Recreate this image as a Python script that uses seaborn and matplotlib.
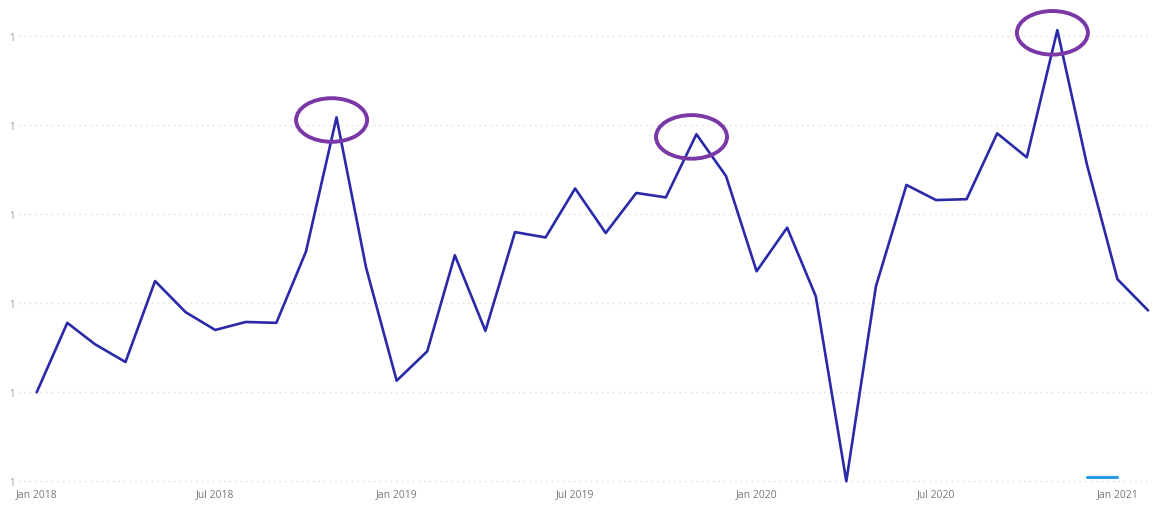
import matplotlib.pyplot as plt
import matplotlib.dates as mdates
from matplotlib.patches import Ellipse
import pandas as pd
import seaborn as sns

# Monthly values (Jan 2018 - Feb 2021)
months = pd.date_range('2018-01-01', periods=38, freq='MS')
values = [1.00, 1.78, 1.54, 1.34, 2.25, 1.90, 1.70, 1.79, 1.78, 2.58, 4.09, 2.40,
          1.13, 1.46, 2.54, 1.69, 2.80, 2.74, 3.29, 2.79, 3.24, 3.19, 3.90, 3.43,
          2.36, 2.85, 2.08, 0.00, 2.19, 3.33, 3.16, 3.17, 3.91, 3.64, 5.07, 3.56,
          2.27, 1.92]

# short light-blue fragment near the bottom right
frag_months = pd.to_datetime(['2020-12-01', '2021-01-01'])
frag_values = [0.05, 0.05]

# peaks highlighted with circles
peak_months = pd.to_datetime(['2018-11-01', '2019-11-01', '2020-11-01'])

x_ticks = pd.to_datetime(['2018-01-01', '2018-07-01', '2019-01-01', '2019-07-01',
                          '2020-01-01', '2020-07-01', '2021-01-01'])
x_labels = ['Jan 2018', 'Jul 2018', 'Jan 2019', 'Jul 2019',
            'Jan 2020', 'Jul 2020', 'Jan 2021']
y_ticks = [0, 1, 2, 3, 4, 5]
y_labels = ['1', '1', '1', '1', '1', '1']

df = pd.DataFrame({'month': months, 'value': values})
df_frag = pd.DataFrame({'month': frag_months, 'value': frag_values})

sns.set_style('white')
plt.rcParams['font.family'] = ['Open Sans', 'DejaVu Sans']

fig = plt.figure(figsize=(11.58, 5.10), dpi=100)
ax = fig.add_axes([18 / 1158, 26 / 510, (1152 - 18) / 1158, 484 / 510])

sns.lineplot(data=df, x='month', y='value', ax=ax, color='#2a29a8', linewidth=1.9)
sns.lineplot(data=df_frag, x='month', y='value', ax=ax, color='#2b9be8', linewidth=2.2)

# Purple ellipses round the three peaks
for m in peak_months:
    v = df.loc[df['month'] == m, 'value'].iloc[0]
    ax.add_patch(Ellipse((mdates.date2num(m - pd.Timedelta(days=5)), v - 0.03),
                         width=72, height=0.49, fill=False,
                         edgecolor='#7b37a6', linewidth=2.8, zorder=5))

ax.set_xlim(mdates.date2num(pd.Timestamp('2017-12-13')),
            mdates.date2num(pd.Timestamp('2021-02-05')))
ax.set_ylim(-0.02, 5.42)

ax.set_xticks(x_ticks)
ax.set_xticklabels(x_labels)
ax.set_yticks(y_ticks)
ax.set_yticklabels(y_labels)
ax.tick_params(axis='x', labelsize=7.5, colors='#777777', length=0, pad=4)
ax.tick_params(axis='y', labelsize=7, colors='#999999', length=0, pad=2)
ax.set_xlabel('')
ax.set_ylabel('')

ax.grid(axis='y', color='#dddddd', linestyle=(0, (1, 3)), linewidth=1.0)
ax.grid(axis='x', visible=False)
for s in ax.spines.values():
    s.set_visible(False)

fig.savefig('out.png', dpi=100)
